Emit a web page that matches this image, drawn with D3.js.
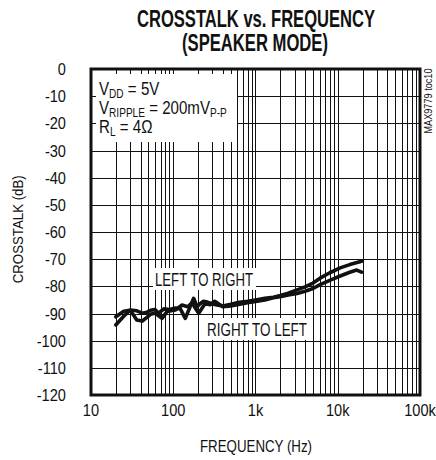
<!DOCTYPE html>
<html>
<head>
<meta charset="utf-8">
<script src="https://cdn.jsdelivr.net/npm/d3@7"></script>
<style>
  body { margin: 0; background: #fff; }
  svg { display: block; }
  text { font-family: "Liberation Sans", Arial, sans-serif; fill: #111; }
</style>
</head>
<body>
<div id="chart"></div>
<script>
// crosstalk curves (freq in Hz, dB)
const freqL2R = [20, 25, 30, 36, 42, 48, 53, 60, 66, 77, 90, 106, 122, 140, 177, 195, 210, 233, 260, 300, 340, 400, 500, 600, 800, 1000, 1300, 1650, 2000, 2500, 3200, 4000, 5000, 6100, 8000, 10700, 14000, 19500];
const dbL2R   = [-94.2, -91, -88.7, -89, -89.9, -89.5, -88.8, -88.5, -89.9, -88.3, -88.5, -88, -88.3, -91.8, -84.4, -87.5, -86.5, -85.5, -85.8, -86.5, -86.9, -87.2, -86.6, -86, -85.5, -85, -84.4, -84, -83.4, -82.5, -81.3, -80.2, -78.8, -77, -75, -73.2, -72, -70.8];
const freqR2L = [20, 25, 30, 36, 42, 53, 60, 73, 84, 106, 128, 150, 170, 185, 204, 244, 280, 320, 400, 500, 600, 800, 1000, 1300, 1650, 2000, 2500, 3200, 4000, 5000, 6100, 8000, 10700, 14000, 17000, 19500];
const dbR2L   = [-91.2, -89.2, -88.8, -92.4, -92.8, -90.3, -89.8, -91.8, -89.3, -88.7, -86.9, -87.5, -86, -88, -89.9, -86.3, -86.8, -85.5, -87.5, -87.2, -86.8, -86, -85.6, -85, -84.2, -83.8, -83.2, -82.6, -81.8, -80.8, -79.4, -77.8, -76.2, -74.8, -74, -74.8];

const xTicks = [10, 100, 1000, 10000, 100000];
const xTickLabels = ["10", "100", "1k", "10k", "100k"];
const yTicks = [0, -10, -20, -30, -40, -50, -60, -70, -80, -90, -100, -110, -120];

const width = 436, height = 460;
const margin = {top: 69, right: 16, bottom: 65, left: 91};

const svg = d3.select("#chart").append("svg")
    .attr("width", width)
    .attr("height", height);

const x = d3.scaleLog().domain([10, 100000]).range([margin.left, width - margin.right]);
const y = d3.scaleLinear().domain([-120, 0]).range([height - margin.bottom, margin.top]);

// narrow text: the original uses a condensed face
function ctext(parent, px, py, str, size, anchor, sx) {
    return parent.append("text")
        .attr("transform", "translate(" + px + "," + py + ") scale(" + sx + ",1)")
        .attr("text-anchor", anchor)
        .style("font-size", size + "px")
        .text(str);
}

// title
svg.append("text")
    .attr("x", 256).attr("y", 27)
    .attr("text-anchor", "middle")
    .attr("textLength", 238).attr("lengthAdjust", "spacingAndGlyphs")
    .style("font-size", "24px").style("font-weight", "bold")
    .text("CROSSTALK vs. FREQUENCY");
svg.append("text")
    .attr("x", 255).attr("y", 51)
    .attr("text-anchor", "middle")
    .attr("textLength", 146).attr("lengthAdjust", "spacingAndGlyphs")
    .style("font-size", "24px").style("font-weight", "bold")
    .text("(SPEAKER MODE)");

// grid
const minor = [];
for (let d = 10; d < 100000; d *= 10) {
    for (let k = 1; k <= 9; k++) minor.push(d * k);
}
const grid = svg.append("g").attr("stroke", "#111").attr("stroke-width", 1);
grid.selectAll("line.v")
    .data(minor.filter(f => f > 10))
    .enter().append("line")
    .attr("x1", d => Math.round(x(d)) + 0.5).attr("x2", d => Math.round(x(d)) + 0.5)
    .attr("y1", y(0)).attr("y2", y(-120));
grid.selectAll("line.h")
    .data(yTicks.slice(1, -1))
    .enter().append("line")
    .attr("x1", x(10)).attr("x2", x(100000))
    .attr("y1", d => Math.round(y(d)) + 0.5).attr("y2", d => Math.round(y(d)) + 0.5);

// white boxes behind the notes
svg.append("rect").attr("x", 96).attr("y", 74).attr("width", 141).attr("height", 68).attr("fill", "#fff");
svg.append("rect").attr("x", 153).attr("y", 268).attr("width", 103).attr("height", 22).attr("fill", "#fff");
svg.append("rect").attr("x", 205).attr("y", 318).attr("width", 106).attr("height", 22).attr("fill", "#fff");

// curves
const line = d3.line()
    .x(d => x(d[0]))
    .y(d => y(d[1]));

const series = [
    d3.zip(freqL2R, dbL2R),
    d3.zip(freqR2L, dbR2L)
];
svg.append("g").selectAll("path")
    .data(series)
    .enter().append("path")
    .attr("d", line)
    .attr("fill", "none")
    .attr("stroke", "#111")
    .attr("stroke-width", 3.6)
    .attr("stroke-linejoin", "round")
    .attr("stroke-linecap", "round");

// frame
svg.append("rect")
    .attr("x", x(10)).attr("y", y(0))
    .attr("width", x(100000) - x(10)).attr("height", y(-120) - y(0))
    .attr("fill", "none").attr("stroke", "#111").attr("stroke-width", 3);

// tick labels
const yl = svg.append("g");
yTicks.forEach(d => ctext(yl, 66, y(d) + 6, d, 17, "end", 0.86));
const xl = svg.append("g");
xTicks.forEach((d, i) => ctext(xl, x(d), 416, xTickLabels[i], 17, "middle", 0.86));

svg.append("text")
    .attr("x", 256).attr("y", 452)
    .attr("text-anchor", "middle")
    .attr("textLength", 112).attr("lengthAdjust", "spacingAndGlyphs")
    .style("font-size", "17px")
    .text("FREQUENCY (Hz)");

svg.append("text")
    .attr("transform", "translate(23," + y(-59) + ") rotate(-90)")
    .attr("text-anchor", "middle")
    .attr("textLength", 108).attr("lengthAdjust", "spacingAndGlyphs")
    .style("font-size", "15px")
    .text("CROSSTALK (dB)");

svg.append("text")
    .attr("transform", "translate(432,101) rotate(-90)")
    .attr("text-anchor", "middle")
    .attr("textLength", 65).attr("lengthAdjust", "spacingAndGlyphs")
    .style("font-size", "10px")
    .text("MAX9779 toc10");

// conditions
const note = svg.append("g").attr("transform", "translate(99,0) scale(0.84,1)").style("font-size", "18px");
const n1 = note.append("text").attr("x", 0).attr("y", 95);
n1.append("tspan").text("V");
n1.append("tspan").attr("dy", 3).style("font-size", "12px").text("DD");
n1.append("tspan").attr("dy", -3).text(" = 5V");
const n2 = note.append("text").attr("x", 0).attr("y", 114);
n2.append("tspan").text("V");
n2.append("tspan").attr("dy", 3).style("font-size", "12px").text("RIPPLE");
n2.append("tspan").attr("dy", -3).text(" = 200mV");
n2.append("tspan").attr("dy", 3).style("font-size", "12px").text("P-P");
const n3 = note.append("text").attr("x", 0).attr("y", 133);
n3.append("tspan").text("R");
n3.append("tspan").attr("dy", 3).style("font-size", "12px").text("L");
n3.append("tspan").attr("dy", -3).text(" = 4\u03A9");

svg.append("text").attr("x", 204).attr("y", 286).attr("text-anchor", "middle")
    .attr("textLength", 98).attr("lengthAdjust", "spacingAndGlyphs")
    .style("font-size", "18px").text("LEFT TO RIGHT");
svg.append("text").attr("x", 257).attr("y", 336).attr("text-anchor", "middle")
    .attr("textLength", 100).attr("lengthAdjust", "spacingAndGlyphs")
    .style("font-size", "18px").text("RIGHT TO LEFT");
</script>
</body>
</html>
